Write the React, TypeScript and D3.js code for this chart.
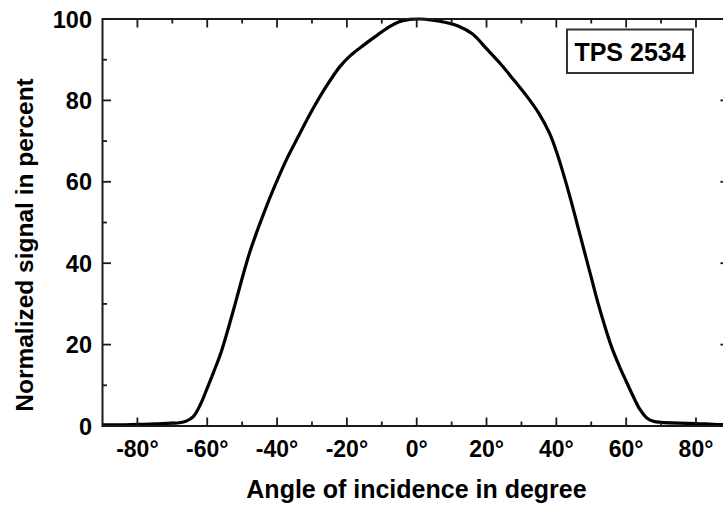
import React from "react";
import * as d3 from "d3";

const angles = [-90, -85, -80, -75, -70, -68, -66, -64, -62, -60, -58, -56, -54, -52, -50, -48, -46, -44, -42, -40, -37, -34, -30, -26, -22, -19, -15, -12, -8, -5, -2, 1, 4, 8, 12, 16, 20, 24, 28, 32, 35, 38, 40, 42, 44, 46, 48, 50, 52, 54, 56, 58, 60, 62, 64, 66, 68, 70, 75, 80, 85, 90];
const signal = [0.3, 0.3, 0.4, 0.5, 0.7, 0.8, 1.2, 2.3, 5.2, 9.3, 13.6, 18.2, 23.9, 30, 36.3, 42.2, 47.2, 51.8, 56.2, 60.3, 66, 71, 77.5, 83.3, 88.3, 91, 93.7, 95.6, 98, 99.3, 99.9, 100, 99.8, 99.2, 98.2, 96.3, 92.7, 89, 84.8, 80.5, 76.8, 72, 67.5, 62, 56, 49.5, 43, 36.5, 30, 24.2, 19, 14.8, 11, 7.3, 4, 1.9, 1.1, 0.9, 0.7, 0.6, 0.4, 0.3];
const xMajorTicks = [-80, -60, -40, -20, 0, 20, 40, 60, 80];
const xMinorTicks = [-70, -50, -30, -10, 10, 30, 50, 70];
const yMajorTicks = [0, 20, 40, 60, 80, 100];
const yMinorTicks = [10, 30, 50, 70, 90];
const xTitle = "Angle of incidence in degree";
const yTitle = "Normalized signal in percent";
const labelText = "TPS 2534";

const FONT = "'Liberation Sans', Arial, Helvetica, sans-serif";

export default function App() {
  const W = 723, H = 507;
  const x = d3.scaleLinear().domain([-90, 90]).range([102.5, 730.9]);
  const y = d3.scaleLinear().domain([0, 100]).range([426, 19]);
  const x0 = x(-90), x1 = x(90), y0 = y(0), y1 = y(100);
  const pts = angles.map((a, i) => [a, signal[i]] as [number, number]);
  const line = d3.line<[number, number]>().x(d => x(d[0])).y(d => y(d[1])).curve(d3.curveCatmullRom.alpha(0.5));
  const ax = "#1a1a1a";
  const major = 8.5, minor = 4.5;
  return (
    <svg width={W} height={H} style={{ position: "absolute", left: 0, top: 0, background: "#fff" }} fontFamily={FONT}>
      <rect x={0} y={0} width={W} height={H} fill="#fff" />
      <path d={line(pts) || ""} fill="none" stroke="#000" strokeWidth={3.2} strokeLinejoin="round" />
      {/* frame */}
      <rect x={x0} y={y1} width={x1 - x0} height={y0 - y1} fill="none" stroke={ax} strokeWidth={2} />
      {/* x ticks */}
      {xMajorTicks.map(t => (
        <g key={"xm" + t}>
          <line x1={x(t)} x2={x(t)} y1={y0} y2={y0 - major} stroke={ax} strokeWidth={1.8} />
          <line x1={x(t)} x2={x(t)} y1={y1} y2={y1 + major} stroke={ax} strokeWidth={1.8} />
          <text x={x(t)} y={457} textAnchor="middle" fontSize={23} fontWeight="bold" fill="#000">{t + "°"}</text>
        </g>
      ))}
      {xMinorTicks.map(t => (
        <g key={"xn" + t}>
          <line x1={x(t)} x2={x(t)} y1={y0} y2={y0 - minor} stroke={ax} strokeWidth={1.8} />
          <line x1={x(t)} x2={x(t)} y1={y1} y2={y1 + minor} stroke={ax} strokeWidth={1.8} />
        </g>
      ))}
      {/* y ticks */}
      {yMajorTicks.map(t => (
        <g key={"ym" + t}>
          <line x1={x0} x2={x0 + major} y1={y(t)} y2={y(t)} stroke={ax} strokeWidth={1.8} />
          <line x1={x1} x2={x1 - major - 2} y1={y(t)} y2={y(t)} stroke={ax} strokeWidth={1.8} />
          <text x={92} y={y(t) + 8.5} textAnchor="end" fontSize={23.5} fontWeight="bold" fill="#000">{t}</text>
        </g>
      ))}
      {yMinorTicks.map(t => (
        <g key={"yn" + t}>
          <line x1={x0} x2={x0 + minor} y1={y(t)} y2={y(t)} stroke={ax} strokeWidth={1.8} />
          <line x1={x1} x2={x1 - minor} y1={y(t)} y2={y(t)} stroke={ax} strokeWidth={1.8} />
        </g>
      ))}
      {/* titles */}
      <text x={416.5} y={498} textAnchor="middle" fontSize={25} fontWeight="bold" fill="#000">{xTitle}</text>
      <text transform="translate(33,245) rotate(-90)" textAnchor="middle" fontSize={24.5} fontWeight="bold" fill="#000">{yTitle}</text>
      {/* label box */}
      <rect x={567} y={29.5} width={126} height={43.5} fill="#fff" stroke="#333" strokeWidth={2} />
      <text x={630} y={60.7} textAnchor="middle" fontSize={25} fontWeight="bold" fill="#000">{labelText}</text>
    </svg>
  );
}
